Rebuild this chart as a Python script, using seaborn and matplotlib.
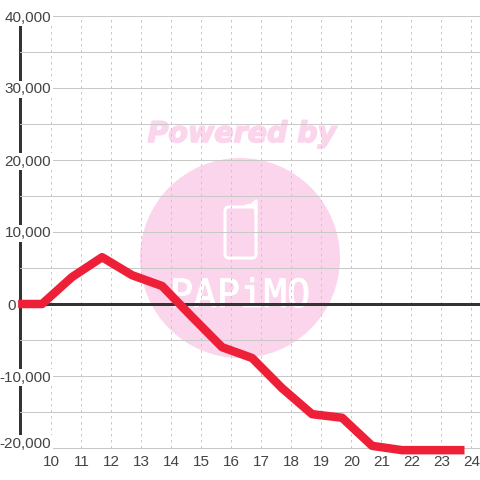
import matplotlib
matplotlib.use("Agg")
import matplotlib.pyplot as plt
import matplotlib.transforms as mtrans
import matplotlib.patheffects as pe
from matplotlib.patches import Circle, FancyBboxPatch
import seaborn as sns
import pandas as pd

hours = [8.92, 9.72, 10.72, 11.72, 12.72, 13.72, 14.72, 15.72, 16.72, 17.72,
         18.72, 19.72, 20.72, 21.72, 22.72, 23.8]
values = [0, 0, 3750, 6500, 4000, 2500, -1800, -6000, -7500, -11700,
          -15300, -15800, -19700, -20300, -20300, -20300]
x_ticks = list(range(10, 25))
y_ticks = list(range(-20000, 40001, 5000))
y_labels = ["-20,000", "", "-10,000", "", "0", "", "10,000", "", "20,000", "", "30,000", "", "40,000"]

INK = "#333333"
LABEL = "#444444"
GRID = "#c8c8c8"
PINK = "#fbd5ec"
RED = "#ee2038"
PX = 72 / 100

sns.set_theme(style="white")
plt.rcParams["font.family"] = ["Liberation Sans", "DejaVu Sans"]

fig = plt.figure(figsize=(4.8, 4.8), dpi=100, facecolor="white")

# watermark layer, in figure pixels
bg = fig.add_axes([0, 0, 1, 1], zorder=0)
bg.set_xlim(0, 480)
bg.set_ylim(480, 0)
bg.axis("off")
bg.add_patch(Circle((240, 258), 100, fc=PINK, ec="none"))
bg.text(242, 134, "Powered by", color=PINK, fontsize=20.5, fontweight="bold", fontstyle="oblique",
        family="DejaVu Sans", ha="center", va="center",
        path_effects=[pe.withStroke(linewidth=1.6 * PX, foreground=PINK)])
bg.add_patch(FancyBboxPatch((225, 207), 31, 51, boxstyle="round,pad=0,rounding_size=4",
                            fc="none", ec="white", lw=3 * PX))
bg.plot([246, 252, 256, 256], [206, 205, 201, 214], color="white", lw=3.2 * PX,
        solid_capstyle="round")
bg.text(240, 307, "PAPiMO", color="white", fontsize=28, family="DejaVu Sans Mono",
        ha="center", va="baseline",
        path_effects=[pe.withStroke(linewidth=0.8 * PX, foreground="white")])

# chart axes: left spine at x=20, plot spans y=16..448
ax = fig.add_axes([20 / 480, (480 - 448) / 480, 460 / 480, 432 / 480], zorder=1)
ax.patch.set_alpha(0)
df = pd.DataFrame({"hour": hours, "value": values})
ax.axhline(0, color=INK, lw=3 * PX, zorder=2.6)
sns.lineplot(data=df, x="hour", y="value", sort=False, errorbar=None, color=RED, lw=8.5 * PX,
             ax=ax, zorder=3, clip_on=False, solid_joinstyle="round", solid_capstyle="butt")
ax.set_xlim(10 - 30.5 / 30, 10 + 429.5 / 30)
ax.set_ylim(-20000, 40000)
ax.set_xlabel("")
ax.set_ylabel("")
ax.set_xticks(x_ticks)
ax.set_xticklabels([str(t) for t in x_ticks])
ax.set_yticks(y_ticks)
ax.set_yticklabels(y_labels)

ax.grid(True, axis="y", color=GRID, lw=1 * PX, linestyle="-")
ax.grid(True, axis="x", color=GRID, lw=1 * PX, linestyle=(0, (2.5, 3.5)))
ax.set_axisbelow(False)
ax.tick_params(axis="y", length=0, pad=-31 * PX, labelsize=11, labelcolor=LABEL)
ax.tick_params(axis="x", length=0, pad=6.5 * PX, labelsize=11, labelcolor=LABEL)

for s in ["top", "right", "bottom"]:
    ax.spines[s].set_visible(False)
ax.spines["left"].set_color(INK)
ax.spines["left"].set_linewidth(3 * PX)

for lab in ax.get_yticklabels():
    lab.set_bbox(dict(facecolor="white", edgecolor="none", pad=2 * PX))
for tick in ax.yaxis.get_major_ticks():
    tick.gridline.set_clip_on(False)
for tick in ax.xaxis.get_major_ticks():
    tick.gridline.set_clip_on(False)

labels = ax.get_yticklabels()
labels[0].set_transform(labels[0].get_transform() + mtrans.Affine2D().translate(0, 6))
labels[4].set_transform(labels[4].get_transform() + mtrans.Affine2D().translate(-35, 0))
for lab in ax.get_xticklabels():
    lab.set_transform(lab.get_transform() + mtrans.Affine2D().translate(1, 0))

fig.savefig("out.png", dpi=100, facecolor="white")
